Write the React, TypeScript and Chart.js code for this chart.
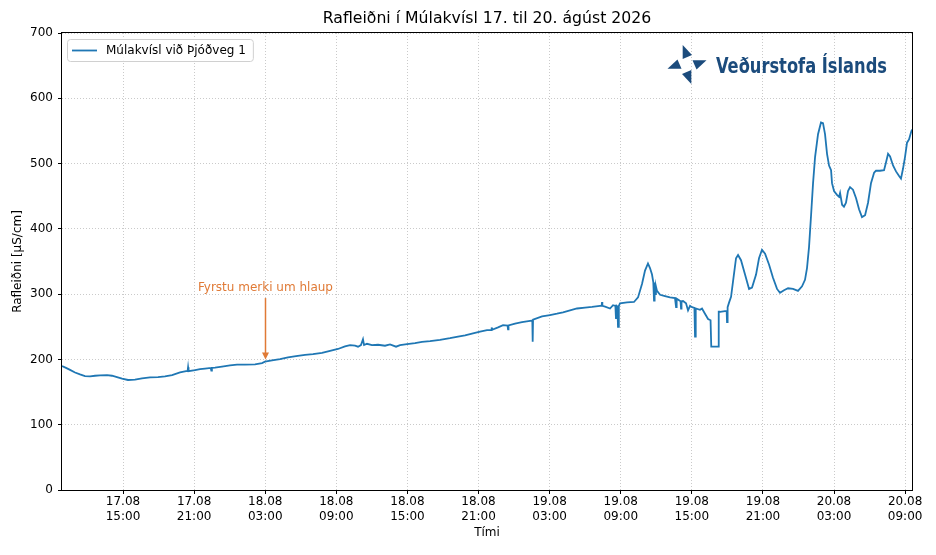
import React, { useEffect, useRef } from "react";
import { Chart, registerables } from "chart.js";

Chart.register(...registerables);

const FONT = "'DejaVu Sans', sans-serif";
const TITLE = "Rafleiðni í Múlakvísl 17. til 20. ágúst 2026";
const SERIES_LABEL = "Múlakvísl við Þjóðveg 1";
const Y_LABEL = "Rafleiðni [µS/cm]";
const X_LABEL = "Tími";
const ANNOTATION_TEXT = "Fyrstu merki um hlaup";
const LOGO_TEXT = "Veðurstofa Íslands";

const LINE_COLOR = "#1f77b4";
const ORANGE = "#e07a36";
const LOGO_BLUE = "#1b4b7c";
const GRID = "rgba(176,176,176,0.85)";

// time axis: hours since 17.08 00:00
const X_MIN = 9.85;
const X_MAX = 81.58;

// 17.08
const hours17 = [9.85, 10.19, 10.53, 10.95, 11.37, 11.79, 12.22, 12.64, 13.06, 13.65, 14.07, 14.49, 14.92, 15.42, 16.01, 16.6, 17.28, 17.95, 18.54, 19.14, 19.81, 20.32, 20.45, 20.49, 20.53, 21.08, 21.5, 21.92, 22.4, 22.45, 22.5, 22.76, 23.35];
const values17 = [190, 187, 184, 180, 177, 174.5, 174, 175, 175.5, 176, 175, 173, 170.5, 168.5, 169, 171, 172.5, 173, 174, 176, 180, 182, 182, 188, 182, 183.5, 185, 186, 187, 183, 187, 187.5, 189];

// 18.08
const hours18 = [24.03, 24.62, 25.3, 26.14, 26.73, 26.98, 27.57, 28.25, 28.92, 29.6, 30.36, 31.03, 31.79, 32.47, 33.14, 33.73, 34.16, 34.58, 34.83, 35.08, 35.25, 35.34, 35.59, 36.01, 36.52, 37.11, 37.53, 38.04, 38.38, 38.97, 39.64, 40.23, 40.91, 41.75, 42.59, 43.27, 43.86, 44.45, 45.13, 45.72, 46.08, 46.11, 46.14, 46.65, 47.07, 47.45, 47.49, 47.53];
const values18 = [191, 192, 192, 192.5, 194.5, 196.5, 198.5, 200.5, 203, 205, 207, 208, 210, 213, 216, 220, 222, 221, 219.5, 222, 231, 222, 224, 222, 222.5, 221, 223, 219.5, 222, 223.5, 225, 227, 228, 230, 232.5, 235, 237, 239.5, 242.5, 245, 245, 249, 245.5, 249, 252.5, 252, 246, 252];

// 19.08
const hours19 = [48.08, 48.67, 49.35, 49.54, 49.57, 49.6, 50.36, 51.03, 51.62, 52.13, 52.72, 53.31, 53.99, 54.58, 55.25, 55.39, 55.42, 55.45, 55.68, 56.1, 56.35, 56.55, 56.6, 56.65, 56.72, 56.77, 56.84, 56.94, 57.53, 58.12, 58.46, 58.8, 59.05, 59.3, 59.47, 59.64, 59.75, 59.81, 59.86, 59.93, 59.97, 60.06, 60.32, 60.74, 61.16, 61.58, 61.64, 61.67, 61.72, 62.05, 62.09, 62.13, 62.26, 62.51, 62.68, 62.85, 63.02, 63.22, 63.27, 63.33, 63.69, 63.86, 64.11, 64.37, 64.58, 64.64, 65.21, 65.27, 65.38, 65.8, 65.94, 65.97, 66.02, 66.14, 66.31, 66.48, 66.73, 66.9, 67.15, 67.49, 67.83, 68.08, 68.42, 68.67, 68.92, 69.18, 69.52, 69.85, 70.19, 70.44, 70.78, 71.12, 71.54, 71.96];
const values19 = [255, 257, 259, 259.5, 227, 261, 266, 268, 270, 272, 275, 278, 279.5, 280.5, 282, 282, 288, 282, 281, 278, 283, 282, 262, 282, 281, 250, 282, 286, 287.5, 288, 295, 316, 336, 347, 340, 330, 318, 290, 318, 300, 312, 305, 299, 297, 295, 294, 294, 280, 293, 289, 278, 289, 289.5, 286, 275, 282, 280, 279, 235, 278, 276, 278, 270, 262, 260, 219.5, 219.5, 273, 273, 274, 274, 257, 280, 287, 296, 320, 355, 360, 352, 330, 308, 310, 330, 355, 368, 362, 345, 325, 308, 302, 306, 309, 308, 305];

// 20.08
const hours20 = [72.3, 72.55, 72.72, 72.89, 73.06, 73.23, 73.4, 73.65, 73.9, 74.07, 74.24, 74.41, 74.58, 74.75, 74.83, 75.0, 75.25, 75.42, 75.51, 75.68, 75.84, 76.01, 76.18, 76.35, 76.6, 76.86, 77.11, 77.36, 77.62, 77.87, 78.12, 78.38, 78.54, 78.88, 79.22, 79.39, 79.56, 79.73, 79.98, 80.23, 80.49, 80.65, 80.82, 80.99, 81.16, 81.33, 81.5, 81.58];
const values20 = [312, 322, 340, 372, 420, 470, 510, 545, 563, 562, 545, 515, 497, 490, 470, 458, 452, 449, 455, 437, 434, 440, 458, 464, 460, 447, 430, 418, 421, 440, 470, 486, 489, 489, 490, 502, 515, 511, 497, 488, 481, 477, 492, 510, 532, 537, 548, 552];

// x tick positions and labels
const tickHours = [15, 21, 27, 33, 39, 45, 51, 57, 63, 69, 75, 81];
const tickDates = ["17.08", "17.08", "18.08", "18.08", "18.08", "18.08", "19.08", "19.08", "19.08", "19.08", "20.08", "20.08"];
const tickTimes = ["15:00", "21:00", "03:00", "09:00", "15:00", "21:00", "03:00", "09:00", "15:00", "21:00", "03:00", "09:00"];

const Y_MIN = 0;
const Y_MAX = 700;
const Y_STEP = 100;

// annotation (18.08 03:00)
const annotationHour = 27;
const annotationTextValue = 309;
const annotationTailValue = 294;
const annotationTipValue = 200;

const allHours = [...hours17, ...hours18, ...hours19, ...hours20];
const allValues = [...values17, ...values18, ...values19, ...values20];

const overlayPlugin = {
  id: "overlay",
  afterDraw(chart: any) {
    const { ctx, chartArea: a, scales } = chart;
    const xs = scales.x;
    const ys = scales.y;
    ctx.save();

    // frame (spines)
    ctx.strokeStyle = "#000";
    ctx.lineWidth = 1;
    ctx.strokeRect(Math.round(a.left) - 0.5, Math.round(a.top) - 0.5, Math.round(a.right) - Math.round(a.left) + 1, Math.round(a.bottom) - Math.round(a.top) + 1);

    // annotation arrow + text
    const ax = Math.round(xs.getPixelForValue(annotationHour)) + 0.5;
    const tailY = ys.getPixelForValue(annotationTailValue);
    const tipY = ys.getPixelForValue(annotationTipValue);
    const textY = ys.getPixelForValue(annotationTextValue);
    ctx.strokeStyle = ORANGE;
    ctx.fillStyle = ORANGE;
    ctx.lineWidth = 1.5;
    ctx.beginPath();
    ctx.moveTo(ax, tailY);
    ctx.lineTo(ax, tipY - 5);
    ctx.stroke();
    ctx.beginPath();
    ctx.moveTo(ax, tipY);
    ctx.lineTo(ax - 3.5, tipY - 7);
    ctx.lineTo(ax + 3.5, tipY - 7);
    ctx.closePath();
    ctx.fill();
    ctx.font = `12px ${FONT}`;
    ctx.textAlign = "center";
    ctx.textBaseline = "middle";
    ctx.fillText(ANNOTATION_TEXT, ax, textY);

    // legend box
    const lx = a.left + 5;
    const ly = a.top + 6;
    ctx.font = `12px ${FONT}`;
    const tw = ctx.measureText(SERIES_LABEL).width;
    const lw = 39 + tw + 7;
    const lh = 22;
    ctx.beginPath();
    if (ctx.roundRect) ctx.roundRect(lx + 0.5, ly + 0.5, lw, lh, 3);
    else ctx.rect(lx + 0.5, ly + 0.5, lw, lh);
    ctx.fillStyle = "rgba(255,255,255,0.85)";
    ctx.fill();
    ctx.strokeStyle = "#d0d0d0";
    ctx.lineWidth = 1;
    ctx.stroke();
    ctx.strokeStyle = LINE_COLOR;
    ctx.lineWidth = 1.8;
    ctx.beginPath();
    ctx.moveTo(lx + 5, ly + 11.5);
    ctx.lineTo(lx + 30, ly + 11.5);
    ctx.stroke();
    ctx.fillStyle = "#000";
    ctx.textAlign = "left";
    ctx.textBaseline = "middle";
    ctx.fillText(SERIES_LABEL, lx + 39, ly + 12);

    // logo
    const cx = a.right - 225;
    const cy = a.top + 31.5;
    let tri = [[-4.3, -19.5], [-4.3, -5.5], [5, -9.5]];
    ctx.fillStyle = LOGO_BLUE;
    for (let k = 0; k < 4; k++) {
      ctx.beginPath();
      tri.forEach(([dx, dy], i) => {
        if (i === 0) ctx.moveTo(cx + dx, cy + dy);
        else ctx.lineTo(cx + dx, cy + dy);
      });
      ctx.closePath();
      ctx.fill();
      tri = tri.map(([dx, dy]) => [-dy, dx]);
    }
    ctx.font = `bold 22px 'Liberation Sans Narrow', 'DejaVu Sans Condensed', sans-serif`;
    const logoW = ctx.measureText(LOGO_TEXT).width;
    const targetW = 171;
    ctx.save();
    ctx.translate(a.right - 196, a.top + 40);
    ctx.scale(targetW / logoW, 1);
    ctx.textAlign = "left";
    ctx.textBaseline = "alphabetic";
    ctx.fillText(LOGO_TEXT, 0, 0);
    ctx.restore();

    ctx.restore();
  },
};

export default function App() {
  const canvasRef = useRef<HTMLCanvasElement | null>(null);

  useEffect(() => {
    const canvas = canvasRef.current;
    if (!canvas) return;
    const points = allHours.map((h, i) => ({ x: h, y: allValues[i] }));
    const chart = new Chart(canvas, {
      type: "line",
      data: {
        datasets: [
          {
            label: SERIES_LABEL,
            data: points,
            borderColor: LINE_COLOR,
            backgroundColor: LINE_COLOR,
            borderWidth: 1.8,
            pointRadius: 0,
            tension: 0,
            fill: false,
          },
        ],
      },
      options: {
        responsive: false,
        animation: false,
        events: [],
        layout: { padding: { left: 0, right: 24, top: 0, bottom: 0 } },
        plugins: {
          legend: { display: false },
          tooltip: { enabled: false },
          title: {
            display: true,
            text: TITLE,
            fullSize: false,
            color: "#000",
            font: { family: FONT, size: 15.7, weight: "normal" },
            padding: { top: 10, bottom: 4.16 },
          },
        },
        scales: {
          x: {
            type: "linear",
            min: X_MIN,
            max: X_MAX,
            afterBuildTicks: (scale: any) => {
              scale.ticks = tickHours.map((v) => ({ value: v }));
            },
            afterFit: (scale: any) => {
              scale.height = 65;
            },
            ticks: {
              autoSkip: false,
              maxRotation: 0,
              minRotation: 0,
              padding: 1,
              color: "#000",
              font: { family: FONT, size: 12 },
              callback: (_v: any, i: number) => [tickDates[i], tickTimes[i]],
            },
            grid: { color: GRID, lineWidth: 0.8, tickColor: "#000", tickLength: 4, tickWidth: 1 },
            border: { display: false, dash: [1, 2] },
            title: {
              display: true,
              text: X_LABEL,
              color: "#000",
              font: { family: FONT, size: 12 },
              padding: { top: 0, bottom: 15 },
            },
          },
          y: {
            min: Y_MIN,
            max: Y_MAX,
            afterFit: (scale: any) => {
              scale.width = 62;
            },
            ticks: {
              stepSize: Y_STEP,
              padding: 5,
              color: "#000",
              font: { family: FONT, size: 12 },
            },
            grid: { color: GRID, lineWidth: 0.8, tickColor: "#000", tickLength: 4, tickWidth: 1 },
            border: { display: false, dash: [1, 2] },
            title: {
              display: true,
              text: Y_LABEL,
              color: "#000",
              font: { family: FONT, size: 12 },
              padding: { top: 11, bottom: 0 },
            },
          },
        },
      } as any,
      plugins: [overlayPlugin],
    });
    return () => chart.destroy();
  }, []);

  return (
    <div style={{ position: "absolute", left: 0, top: 0, width: 936, height: 555, background: "#fff" }}>
      <canvas ref={canvasRef} width={936} height={555} style={{ display: "block" }} />
    </div>
  );
}
